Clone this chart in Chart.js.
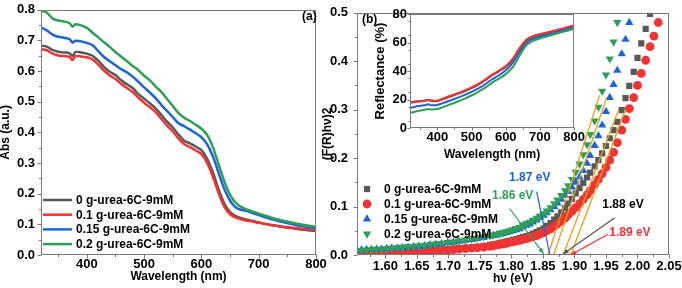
<!DOCTYPE html>
<html>
<head>
<meta charset="utf-8">
<script src="https://cdn.jsdelivr.net/npm/chart.js@4.4.1/dist/chart.umd.min.js"></script>
<style>
  html, body { margin: 0; padding: 0; background: #fff; }
  #wrap { position: relative; width: 682px; height: 288px; overflow: hidden; }
  canvas { position: absolute; }
</style>
</head>
<body>
<div id="wrap">
  <canvas id="cA" width="340" height="288" style="left:0;top:0"></canvas>
  <canvas id="cB" width="364" height="288" style="left:318px;top:0"></canvas>
  <canvas id="cI" width="215" height="165" style="left:370px;top:0"></canvas>
</div>
<script>
// sample names, same order everywhere
const sampleNames = ['0 g-urea-6C-9mM', '0.1 g-urea-6C-9mM', '0.15 g-urea-6C-9mM', '0.2 g-urea-6C-9mM'];

// (a) absorbance vs wavelength
const absWl = [320, 330, 340, 350, 360, 370, 375, 380, 390, 400, 410, 420, 430, 440, 450, 460, 470, 480, 490, 500,
  510, 520, 530, 540, 550, 560, 570, 580, 590, 600, 610, 620, 630, 640, 650, 660, 670, 680, 690, 700,
  710, 720, 730, 740, 750, 760, 770, 780, 790, 800];
const abs0 = [.683, .680, .669, .663, .661, .658, .649, .662, .661, .657, .650, .634, .614, .598, .587, .570, .557, .545, .525, .510,
  .495, .478, .457, .435, .416, .393, .373, .364, .354, .342, .314, .270, .214, .168, .140, .127, .120, .115, .111, .106,
  .102, .098, .095, .092, .089, .087, .084, .082, .080, .078];
const abs01 = [.671, .668, .657, .651, .649, .646, .636, .649, .648, .645, .638, .621, .602, .586, .574, .558, .545, .532, .513, .497,
  .482, .466, .444, .422, .403, .380, .361, .352, .341, .329, .300, .255, .202, .158, .133, .122, .116, .112, .109, .105,
  .102, .099, .096, .093, .091, .089, .087, .085, .083, .081];
const abs015 = [.742, .733, .719, .712, .709, .704, .693, .699, .697, .692, .684, .665, .646, .632, .619, .606, .596, .582, .565, .547,
  .530, .512, .490, .470, .450, .430, .420, .409, .397, .384, .361, .322, .268, .215, .177, .155, .147, .143, .136, .130,
  .124, .118, .113, .108, .104, .100, .096, .093, .090, .087];
const abs02 = [.797, .791, .772, .765, .762, .756, .745, .753, .749, .741, .725, .710, .694, .679, .662, .647, .632, .617, .603, .585,
  .570, .550, .532, .509, .486, .463, .448, .437, .425, .412, .392, .352, .296, .240, .196, .170, .156, .148, .141, .135,
  .129, .123, .118, .113, .109, .105, .101, .098, .095, .092];

// (b) Tauc plot: photon energy (eV) and (F(R)hv)^2
const hvB = [1.554, 1.562, 1.570, 1.578, 1.586, 1.594, 1.602, 1.610, 1.619, 1.627, 1.636, 1.645, 1.653, 1.662, 1.671,
  1.680, 1.689, 1.699, 1.708, 1.717, 1.727, 1.737, 1.746, 1.756, 1.766,
  1.771, 1.777, 1.782, 1.787, 1.792, 1.797, 1.802, 1.808, 1.813, 1.818, 1.824, 1.829, 1.834, 1.840, 1.845, 1.851,
  1.856, 1.862, 1.868, 1.873, 1.879, 1.885, 1.890, 1.896, 1.902, 1.908, 1.914, 1.920, 1.925, 1.932, 1.938, 1.944,
  1.950, 1.956, 1.962, 1.968, 1.975, 1.981, 1.987, 1.994, 2.000, 2.006, 2.013, 2.020, 2.026, 2.033];
const tauc0 = [.003, .003, .004, .004, .004, .005, .005, .006, .006, .007, .007, .008, .008, .009, .010,
  .010, .011, .012, .013, .014, .015, .016, .017, .019, .021,
  .022, .023, .025, .026, .028, .029, .031, .033, .035, .037, .039, .041, .044, .047, .051, .055,
  .060, .066, .073, .080, .088, .097, .106, .116, .127, .138, .149, .160, .170, .183, .196, .210,
  .225, .241, .258, .275, .299, .324, .349, .378, .407, .437, .467, .498, .530, null];
const tauc01 = [.002, .002, .003, .003, .003, .004, .004, .005, .005, .006, .006, .007, .007, .008, .008,
  .009, .010, .010, .011, .012, .013, .014, .015, .016, .018,
  .019, .021, .022, .023, .024, .026, .027, .029, .030, .032, .034, .036, .038, .040, .043, .046,
  .050, .054, .059, .064, .070, .076, .083, .090, .098, .106, .115, .124, .133, .145, .156, .168,
  .181, .196, .212, .232, .258, .280, .302, .325, .350, .375, .402, .430, .452, .480];
const tauc015 = [.010, .010, .011, .011, .012, .012, .013, .014, .014, .015, .016, .017, .018, .019, .021,
  .022, .023, .025, .026, .028, .030, .032, .034, .036, .039,
  .040, .041, .043, .044, .046, .048, .050, .052, .054, .058, .061, .064, .068, .072, .077, .082,
  .087, .093, .100, .107, .115, .123, .131, .140, .150, .161, .174, .189, .205, .226, .246, .268,
  .296, .325, .352, .381, .415, .445, .480, .520, null, null, null, null, null, null];
const tauc02 = [.009, .010, .010, .011, .012, .012, .013, .014, .015, .016, .017, .018, .019, .020, .022,
  .023, .024, .026, .027, .029, .031, .033, .035, .038, .040,
  .041, .043, .045, .046, .048, .050, .052, .055, .057, .062, .065, .068, .072, .076, .080, .085,
  .091, .098, .106, .114, .123, .133, .143, .156, .171, .188, .207, .228, .249, .277, .305, .338,
  .372, .405, .440, .480, .525, null, null, null, null, null, null, null, null, null];

// linear fits (x at zero, x and y at top end)
const fitX0 = [1.882, 1.894, 1.867, 1.858];
const fitX1 = [1.970, 1.981, 1.951, 1.940];
const fitY1 = [0.300, 0.300, 0.325, 0.330];

// band gap labels
const gapText = ['1.88 eV', '1.89 eV', '1.87 eV', '1.86 eV'];

// inset: reflectance vs wavelength
const reflWl = [320, 340, 360, 375, 380, 400, 420, 440, 460, 480, 500, 520, 540, 560, 580, 600, 620, 640, 660, 680,
  700, 720, 740, 760, 780, 800];
const refl0 = [18.0, 18.8, 19.2, 19.8, 19.0, 19.0, 20.5, 22.3, 24.0, 25.8, 28.0, 30.5, 33.5, 37.0, 39.8, 42.8, 47.5, 54.8, 61.0, 63.8,
  65.3, 66.5, 67.8, 69.0, 70.3, 71.5];
const refl01 = [17.5, 18.5, 19.0, 19.6, 19.3, 19.2, 21.0, 22.8, 24.5, 26.4, 28.5, 31.0, 34.0, 37.5, 40.2, 43.5, 48.5, 56.0, 62.0, 64.6,
  66.0, 67.0, 68.2, 69.5, 70.7, 72.0];
const refl015 = [14.0, 15.2, 15.9, 16.6, 16.0, 16.2, 17.8, 19.6, 21.3, 23.2, 25.3, 27.8, 30.7, 34.2, 37.0, 40.5, 45.5, 53.0, 59.5, 62.5,
  64.0, 65.3, 66.6, 68.0, 69.2, 70.3];
const refl02 = [10.5, 11.8, 12.6, 13.4, 13.0, 13.3, 15.0, 16.8, 18.6, 20.6, 22.8, 25.4, 28.3, 31.8, 34.6, 37.8, 42.5, 50.5, 58.0, 61.2,
  62.8, 64.2, 65.6, 67.0, 68.3, 69.6];

const colors = ['#595959', '#f03434', '#1c64d8', '#2f9f58'];
const markerStyles = [
  { pointStyle: 'rect', radius: 4.4, rotation: 0 },
  { pointStyle: 'circle', radius: 4.4, rotation: 0 },
  { pointStyle: 'triangle', radius: 4.8, rotation: 0 },
  { pointStyle: 'triangle', radius: 4.8, rotation: 180 },
];
const fitColor = '#e3a21a';
const FONT = "'Liberation Sans', Arial, sans-serif";
const tickFont = { size: 13 };

Chart.defaults.font.family = FONT;
Chart.defaults.font.size = 12;
Chart.defaults.font.weight = 'bold';
Chart.defaults.color = '#000';
Chart.defaults.animation = false;
Chart.defaults.plugins.legend.display = false;
Chart.defaults.plugins.tooltip.enabled = false;

const toPoints = (xs, ys) => xs.map((x, j) => ({ x: x, y: ys[j] })).filter(p => p.y !== null);

// box around the plot area, major and minor ticks pointing out
const frameDeco = {
  id: 'frameDeco',
  afterDatasetsDraw(chart, args, opts) {
    const { ctx, chartArea: a, scales } = chart;
    const L = Math.round(a.left) + 0.5, T = Math.round(a.top) + 0.5;
    const R = Math.round(a.right) - 0.5, B = Math.round(a.bottom) - 0.5;
    ctx.save();
    ctx.strokeStyle = '#7a7a7a';
    ctx.lineWidth = 1;
    ctx.strokeRect(L, T, R - L, B - T);
    ctx.beginPath();
    const xs = scales.x, ys = scales.y;
    const xTick = (v, len) => {
      const p = Math.round(xs.getPixelForValue(v)) + 0.5;
      ctx.moveTo(p, B); ctx.lineTo(p, B + len);
    };
    const yTick = (v, len) => {
      const p = Math.round(ys.getPixelForValue(v)) + 0.5;
      ctx.moveTo(L, p); ctx.lineTo(L - len, p);
    };
    xs.ticks.forEach(t => xTick(t.value, opts.major));
    ys.ticks.forEach(t => yTick(t.value, opts.major));
    (opts.xMinor || []).forEach(v => xTick(v, opts.minor));
    (opts.yMinor || []).forEach(v => yTick(v, opts.minor));
    ctx.stroke();
    ctx.restore();
  }
};

// legend for panel (a), line samples
const legendLines = {
  id: 'legendLines',
  afterDraw(chart, args, opts) {
    const ctx = chart.ctx;
    ctx.save();
    ctx.font = 'bold 12px ' + FONT;
    ctx.textBaseline = 'middle';
    ctx.fillStyle = '#000';
    sampleNames.forEach((name, i) => {
      const y = opts.y0 + i * opts.dy;
      ctx.strokeStyle = colors[i];
      ctx.lineWidth = 2.5;
      ctx.beginPath();
      ctx.moveTo(opts.x0, y); ctx.lineTo(opts.x0 + 29, y);
      ctx.stroke();
      ctx.fillText(name, opts.x0 + 33, y + 0.5);
    });
    ctx.fillText(opts.tag, opts.tagX, opts.tagY);
    ctx.restore();
  }
};

// legend with markers, gap arrows and tag for panel (b)
const tagNotes = {
  id: 'tagNotes',
  afterDraw(chart, args, opts) {
    const ctx = chart.ctx;
    const xs = chart.scales.x, ys = chart.scales.y;
    ctx.save();
    ctx.font = 'bold 12px ' + FONT;
    ctx.textBaseline = 'middle';
    ctx.fillStyle = '#000';
    ctx.fillText(opts.tag, opts.tagX, opts.tagY);
    sampleNames.forEach((name, i) => {
      const y = opts.y0 + i * opts.dy;
      ctx.fillStyle = colors[i];
      Chart.helpers.drawPoint(ctx, { ...markerStyles[i], borderWidth: 0 }, opts.x0, y);
      ctx.fillStyle = '#000';
      ctx.fillText(name, opts.x0 + 17, y + 0.5);
    });
    // arrows to the x-axis intercepts
    opts.notes.forEach(n => {
      const x1 = xs.getPixelForValue(n.from[0]), y1 = ys.getPixelForValue(n.from[1]);
      const x2 = xs.getPixelForValue(n.to[0]), y2 = ys.getPixelForValue(n.to[1]);
      ctx.strokeStyle = n.line;
      ctx.fillStyle = n.line;
      ctx.lineWidth = 1.2;
      ctx.beginPath();
      ctx.moveTo(x1, y1); ctx.lineTo(x2, y2);
      ctx.stroke();
      if (n.head) {
        const ang = Math.atan2(y2 - y1, x2 - x1);
        ctx.beginPath();
        ctx.moveTo(x2, y2);
        ctx.lineTo(x2 - 6 * Math.cos(ang - 0.4), y2 - 6 * Math.sin(ang - 0.4));
        ctx.lineTo(x2 - 6 * Math.cos(ang + 0.4), y2 - 6 * Math.sin(ang + 0.4));
        ctx.closePath();
        ctx.fill();
      }
      ctx.fillStyle = n.color;
      ctx.textAlign = 'center';
      ctx.fillText(n.text, xs.getPixelForValue(n.at[0]), ys.getPixelForValue(n.at[1]));
      ctx.textAlign = 'left';
    });
    ctx.restore();
  }
};

const range = (a, b, s) => { const r = []; for (let v = a; v <= b + 1e-9; v += s) r.push(+v.toFixed(4)); return r; };

// ---- panel (a)
const absSeries = [abs0, abs01, abs015, abs02];
new Chart(document.getElementById('cA'), {
  type: 'line',
  data: {
    datasets: absSeries.map((s, i) => ({
      label: sampleNames[i],
      data: toPoints(absWl, s),
      borderColor: colors[i],
      borderWidth: 2.5,
      pointRadius: 0,
      tension: 0.3,
      order: 4 - i,
    })),
  },
  options: {
    responsive: false,
    devicePixelRatio: 1,
    layout: { padding: { top: 7, right: 24, left: 0, bottom: 0 } },
    scales: {
      x: {
        type: 'linear', min: 320, max: 800,
        afterFit: s => { s.height = 33; },
        ticks: { stepSize: 100, includeBounds: false, padding: 0, maxRotation: 0, autoSkip: false, font: tickFont },
        grid: { display: false, tickLength: 2 },
        border: { display: false },
        title: { display: true, text: 'Wavelength (nm)', padding: { top: 0, bottom: 4 } },
      },
      y: {
        min: 0, max: 0.8,
        afterFit: s => { s.width = 41; },
        ticks: { stepSize: 0.1, padding: 2, font: tickFont, callback: v => v.toFixed(1) },
        grid: { display: false, tickLength: 4 },
        border: { display: false },
        title: { display: true, text: 'Abs (a.u.)', padding: { top: -2, bottom: 0 } },
      },
    },
    plugins: {
      frameDeco: { major: 4, minor: 2.5, xMinor: range(350, 750, 100), yMinor: range(0.05, 0.75, 0.1) },
      legendLines: { x0: 43, y0: 200, dy: 14.7, tag: '(a)', tagX: 302, tagY: 17 },
    },
  },
  plugins: [frameDeco, legendLines],
});

// ---- panel (b)
const taucSeries = [tauc0, tauc01, tauc015, tauc02];
const markerSets = taucSeries.map((s, i) => ({
  label: sampleNames[i],
  data: toPoints(hvB, s),
  backgroundColor: colors[i],
  borderWidth: 0,
  pointStyle: markerStyles[i].pointStyle,
  pointRadius: markerStyles[i].radius,
  pointRotation: markerStyles[i].rotation,
  showLine: false,
  clip: 0,
  order: 4 - i + 1,
}));
const fitSets = fitX0.map((x0, i) => ({
  label: 'fit ' + i,
  data: [{ x: x0, y: 0 }, { x: fitX1[i], y: fitY1[i] }],
  borderColor: fitColor,
  borderWidth: 1.3,
  pointRadius: 0,
  showLine: true,
  clip: 0,
  order: 0,
}));
new Chart(document.getElementById('cB'), {
  type: 'scatter',
  data: { datasets: markerSets.concat(fitSets) },
  options: {
    responsive: false,
    devicePixelRatio: 1,
    layout: { padding: { top: 10, right: 13, left: 0, bottom: 0 } },
    scales: {
      x: {
        type: 'linear', min: 1.555, max: 2.05,
        afterFit: s => { s.height = 33; },
        ticks: { stepSize: 0.05, includeBounds: false, padding: 0, maxRotation: 0, autoSkip: false, font: tickFont, callback: v => v.toFixed(2) },
        grid: { display: false, tickLength: 4 },
        border: { display: false },
        title: { display: true, text: 'hν (eV)', padding: { top: 0, bottom: 2 } },
      },
      y: {
        min: 0, max: 0.5,
        afterFit: s => { s.width = 39; },
        ticks: { stepSize: 0.1, padding: 5, font: tickFont, callback: v => v.toFixed(1) },
        grid: { display: false, tickLength: 4 },
        border: { display: false },
        title: { display: true, text: '(F(R)hν)2', padding: { top: 2, bottom: 0 } },
      },
    },
    plugins: {
      frameDeco: { major: 4, minor: 2.5, xMinor: range(1.575, 2.025, 0.05), yMinor: range(0.05, 0.45, 0.1) },
      tagNotes: {
        tag: '(b)', tagX: 44, tagY: 20,
        x0: 49, y0: 189, dy: 15,
        notes: [
          { text: gapText[0], color: '#000', line: '#555', at: [1.977, 0.104], from: [1.964, 0.077], to: [1.882, 0.002], head: true },
          { text: gapText[1], color: colors[1], line: colors[1], at: [1.988, 0.046], from: [1.953, 0.043], to: [1.894, 0.0], head: true },
          { text: gapText[2], color: colors[2], line: colors[2], at: [1.829, 0.159], from: [1.840, 0.131], to: [1.861, 0.0], head: false },
          { text: gapText[3], color: colors[3], line: colors[3], at: [1.802, 0.122], from: [1.797, 0.096], to: [1.851, 0.003], head: true },
        ],
      },
    },
  },
  plugins: [frameDeco, tagNotes],
});

// ---- inset
const reflSeries = [refl0, refl01, refl015, refl02];
new Chart(document.getElementById('cI'), {
  type: 'line',
  data: {
    datasets: reflSeries.map((s, i) => ({
      label: sampleNames[i],
      data: toPoints(reflWl, s),
      borderColor: colors[i],
      borderWidth: 2,
      pointRadius: 0,
      tension: 0.3,
      order: 4 - i,
    })),
  },
  options: {
    responsive: false,
    devicePixelRatio: 1,
    layout: { padding: { top: 14, right: 8, left: 0, bottom: 0 } },
    scales: {
      x: {
        type: 'linear', min: 320, max: 800,
        afterFit: s => { s.height = 37; },
        ticks: { stepSize: 100, includeBounds: false, padding: 0, maxRotation: 0, autoSkip: false, font: tickFont },
        grid: { display: false, tickLength: 2 },
        border: { display: false },
        title: { display: true, text: 'Wavelength (nm)', padding: { top: 0, bottom: 3 } },
      },
      y: {
        min: 0, max: 80,
        afterFit: s => { s.width = 40; },
        ticks: { stepSize: 10, padding: 1, font: tickFont },
        grid: { display: false, tickLength: 2 },
        border: { display: false },
        title: { display: true, text: 'Reflectance (%)', font: { size: 13 }, padding: { top: 3, bottom: 0 } },
      },
    },
    plugins: {
      frameDeco: { major: 3, minor: 2, xMinor: range(350, 750, 100), yMinor: range(5, 75, 10) },
    },
  },
  plugins: [frameDeco],
});
</script>
</body>
</html>
